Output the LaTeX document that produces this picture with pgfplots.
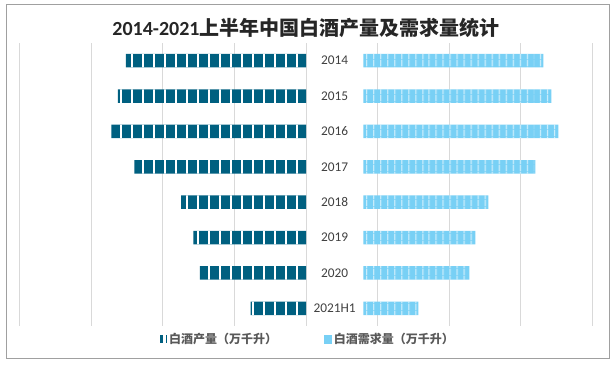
\documentclass[border=0pt]{standalone}
\usepackage{pgfplots}
\pgfplotsset{compat=1.18}
\usetikzlibrary{patterns.meta}
\usepackage{fontspec}
\setmainfont{Carlito}
\newfontfamily\cjk{Noto Sans CJK SC}
\definecolor{prod}{HTML}{006080}
\definecolor{dem}{HTML}{78D0F5}
\definecolor{gridc}{HTML}{D9D9D9}
\definecolor{framec}{HTML}{A0A0A0}
\definecolor{lab}{HTML}{404040}
\definecolor{leg}{HTML}{595959}
\pgfplotsset{
  common/.style={
    at={(14.625pt,28.5pt)}, anchor=south west,
    width=429.75pt, height=212.25pt, scale only axis,
    xmin=-2000, xmax=2000, ymin=-0.5, ymax=7.5, y dir=reverse,
    xtick={-2000,-1500,...,2000}, xticklabels={}, ytick=\empty,
    axis line style={draw=none}, major tick length=0pt,
    bar width=10.1pt, clip=false,
  },
  prodbar/.style={draw=none, fill=prod,
    postaction={pattern={Lines[angle=90,distance=8.25pt,line width=1.3pt]}, pattern color=white}},
  dembar/.style={draw=none, fill=dem,
    postaction={pattern={Lines[angle=90,distance=5.4pt,line width=0.6pt]}, pattern color=white}},
}
\begin{document}
\begin{tikzpicture}
\path[use as bounding box] (0pt,0pt) rectangle (459.75pt,273pt);
\draw[framec, line width=0.75pt] (4.5pt,4.5pt) rectangle (456.75pt,269.25pt);
\node[text=black!85, font=\fontsize{15pt}{18pt}\selectfont\bfseries] at (229.5pt,252pt)
  {2014-2021{\cjk 上半年中国白酒产量及需求量统计}};
\begin{axis}[common, xbar, xmajorgrids, grid style={gridc, line width=0.75pt},
  legend columns=2,
  legend style={at={(0.5035,-0.046)}, anchor=center, draw=none, fill=none,
    font=\fontsize{9pt}{11pt}\selectfont, text=leg,
    /tikz/every even column/.append style={column sep=34pt},
    nodes={inner xsep=1.5pt}},
  legend cell align=left]
\addplot[prodbar, legend image code/.code={\fill[prod] (0pt,-3pt) rectangle (2.3pt,3pt); \fill[prod] (3pt,-3pt) rectangle (5.2pt,3pt);}]
  coordinates {(-1257,0) (-1313,1) (-1358,2) (-1198,3) (-871,4) (-786,5) (-741,6) (-386,7)};
\addlegendentry{{\cjk\bfseries 白酒产量（万千升）}}
\addlegendimage{legend image code/.code={\fill[dem] (0pt,-3pt) rectangle (2.3pt,3pt); \fill[dem] (3pt,-3pt) rectangle (5.2pt,3pt);}}
\addlegendentry{{\cjk\bfseries 白酒需求量（万千升）}}
\node[text=lab, font=\fontsize{10pt}{12pt}\selectfont] at (axis cs:200,0) {2014};
\node[text=lab, font=\fontsize{10pt}{12pt}\selectfont] at (axis cs:200,1) {2015};
\node[text=lab, font=\fontsize{10pt}{12pt}\selectfont] at (axis cs:200,2) {2016};
\node[text=lab, font=\fontsize{10pt}{12pt}\selectfont] at (axis cs:200,3) {2017};
\node[text=lab, font=\fontsize{10pt}{12pt}\selectfont] at (axis cs:200,4) {2018};
\node[text=lab, font=\fontsize{10pt}{12pt}\selectfont] at (axis cs:200,5) {2019};
\node[text=lab, font=\fontsize{10pt}{12pt}\selectfont] at (axis cs:200,6) {2020};
\node[text=lab, font=\fontsize{10pt}{12pt}\selectfont] at (axis cs:200,7) {2021H1};
\end{axis}
\begin{axis}[common, xbar stacked]
\addplot[draw=none, fill=none] coordinates {(400,0) (400,1) (400,2) (400,3) (400,4) (400,5) (400,6) (400,7)};
\addplot[dembar] coordinates {(1257,0) (1313,1) (1362,2) (1201,3) (873,4) (782,5) (740,6) (384,7)};
\end{axis}
\end{tikzpicture}
\end{document}
